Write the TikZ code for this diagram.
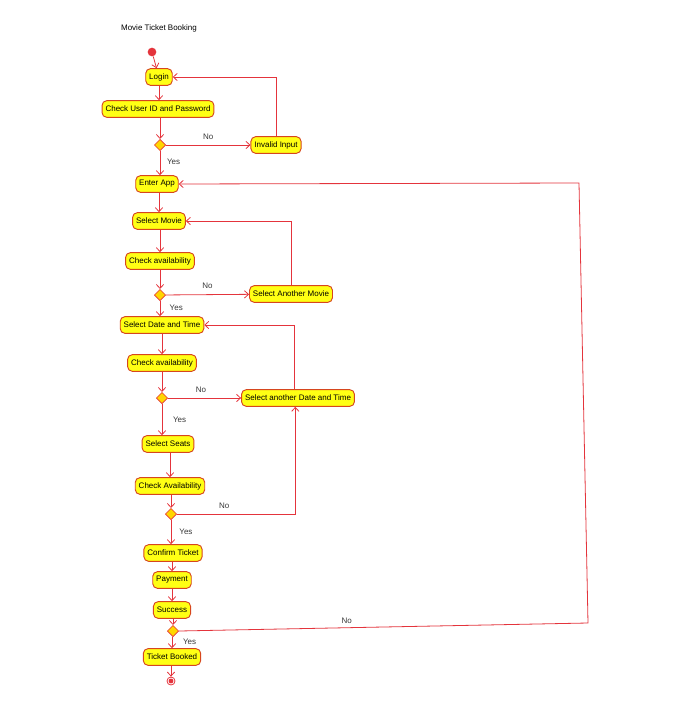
\documentclass[tikz,border=0pt]{standalone}
\usepackage{fontspec}
\setmainfont{Liberation Sans}
\usetikzlibrary{arrows.meta,shapes.geometric}

\definecolor{actfill}{RGB}{255,255,20}
\definecolor{actborder}{RGB}{214,70,30}
\definecolor{flowred}{RGB}{228,52,60}
\definecolor{decfill}{RGB}{255,214,0}
\definecolor{lbl}{RGB}{55,55,55}

\tikzset{
  act/.style={draw=actborder, fill=actfill, rounded corners=3.5pt, line width=0.7pt,
    inner xsep=2.6pt, inner ysep=0pt, minimum height=12.5pt,
    font=\fontsize{6}{7}\selectfont},
  dec/.style={diamond, aspect=1, draw=flowred, fill=decfill, line width=0.5pt,
    minimum size=8.5pt, inner sep=0pt},
  flow/.style={draw=flowred, line width=0.6pt, -{Straight Barb[length=3pt,width=5.5pt]}},
  guard/.style={text=lbl, font=\fontsize{6}{7}\selectfont, inner sep=0pt},
}

\begin{document}
\begin{tikzpicture}[x=0.75pt,y=-0.75pt]
\useasboundingbox (0,0) rectangle (687,721);

% title
\node[font=\fontsize{6}{7}\selectfont] (title) at (159,28) {Movie Ticket Booking};

% start / end
\node[circle, fill=flowred, minimum size=6.5pt, inner sep=0pt] (start) at (152,52) {};
\node[circle, draw=flowred, line width=0.6pt, minimum size=6pt, inner sep=0pt] (stop) at (171,681) {};
\node[circle, fill=flowred, minimum size=3.6pt, inner sep=0pt] (stopdot) at (stop) {};

% login part
\node[act] (login) at (159,77) {Login};
\node[act] (check) at (158,109) {Check User ID and Password};
\node[dec] (d1) at (160,145) {};
\node[act] (invalid) at (276,145) {Invalid Input};

% movie part
\node[act] (enter) at (157,184) {Enter App};
\node[act] (selmovie) at (159,221) {Select Movie};
\node[act] (chk1) at (160,261) {Check availability};
\node[dec] (d2) at (160,295) {};
\node[act] (another) at (291,294) {Select Another Movie};

% date and time part
\node[act] (seldate) at (162,325) {Select Date and Time};
\node[act] (chk2) at (162,363) {Check availability};
\node[dec] (d3) at (162,398) {};
\node[act] (another2) at (298,398) {Select another Date and Time};

% seats part
\node[act] (seats) at (168,444) {Select Seats};
\node[act] (chkA) at (170,486) {Check Availability};
\node[dec] (d4) at (171,514) {};

% booking part
\node[act] (confirm) at (173,553) {Confirm Ticket};
\node[act] (payment) at (172,580) {Payment};
\node[act] (success) at (172,610) {Success};
\node[dec] (d5) at (173,631) {};
\node[act] (booked) at (172,657) {Ticket Booked};

% corners of the outer loop
\coordinate (outerB) at (588,623);
\coordinate (outerT) at (579,183);

% flows
\draw[flow] (start) -- (login);
\draw[flow] (login.south) -- (login.south |- check.north);
\draw[flow] (check.south -| d1) -- (d1.north);
\draw[flow] (d1) -- node[guard, above=4pt, pos=0.5] {No} (invalid);
\draw[flow] (invalid.north) -- (invalid.north |- login) -- (login.east);
\draw[flow] (d1.south) -- node[guard, right=5pt, pos=0.45] {Yes} (d1.south |- enter.north);

\draw[flow] (enter.south -| selmovie) -- (selmovie.north);
\draw[flow] (selmovie.south -| chk1) -- (chk1.north);
\draw[flow] (chk1.south -| d2) -- (d2.north);
\draw[flow] (d2) -- node[guard, above=4pt, pos=0.5] {No} (another);
\draw[flow] (another.north) -- (another.north |- selmovie) -- (selmovie.east);
\draw[flow] (d2.south) -- node[guard, right=7pt, pos=0.45] {Yes} (d2.south |- seldate.north);

\draw[flow] (seldate.south -| chk2) -- (chk2.north);
\draw[flow] (chk2.south -| d3) -- (d3.north);
\draw[flow] (d3) -- node[guard, above=4pt, pos=0.45] {No} (another2);
\draw[flow] ([xshift=-3pt]another2.north) -- ([xshift=-3pt]another2.north |- seldate) -- (seldate.east);
\draw[flow] (d3.south) -- node[guard, right=8pt, pos=0.5] {Yes} (d3.south |- seats.north);

\draw[flow] (seats.south -| chkA) -- (chkA.north);
\draw[flow] (chkA.south -| d4) -- (d4.north);
\draw[flow] (d4.east) -- node[guard, above=4pt, pos=0.4] {No} ([xshift=-2pt]another2.south |- d4) -- ([xshift=-2pt]another2.south);
\draw[flow] (d4.south) -- node[guard, right=6pt, pos=0.5] {Yes} (d4.south |- confirm.north);

\draw[flow] (confirm.south -| payment) -- (payment.north);
\draw[flow] (payment.south) -- (success.north);
\draw[flow] (success.south -| d5) -- (d5.north);
\draw[flow] (d5.east) -- node[guard, above=3pt, pos=0.41] {No} (outerB) -- (outerT) -- (enter.east);
\draw[flow] (d5.south -| booked) -- node[guard, right=8pt, pos=0.45] {Yes} (booked.north);
\draw[flow] (booked.south -| stop) -- (stop.north);
\end{tikzpicture}
\end{document}
